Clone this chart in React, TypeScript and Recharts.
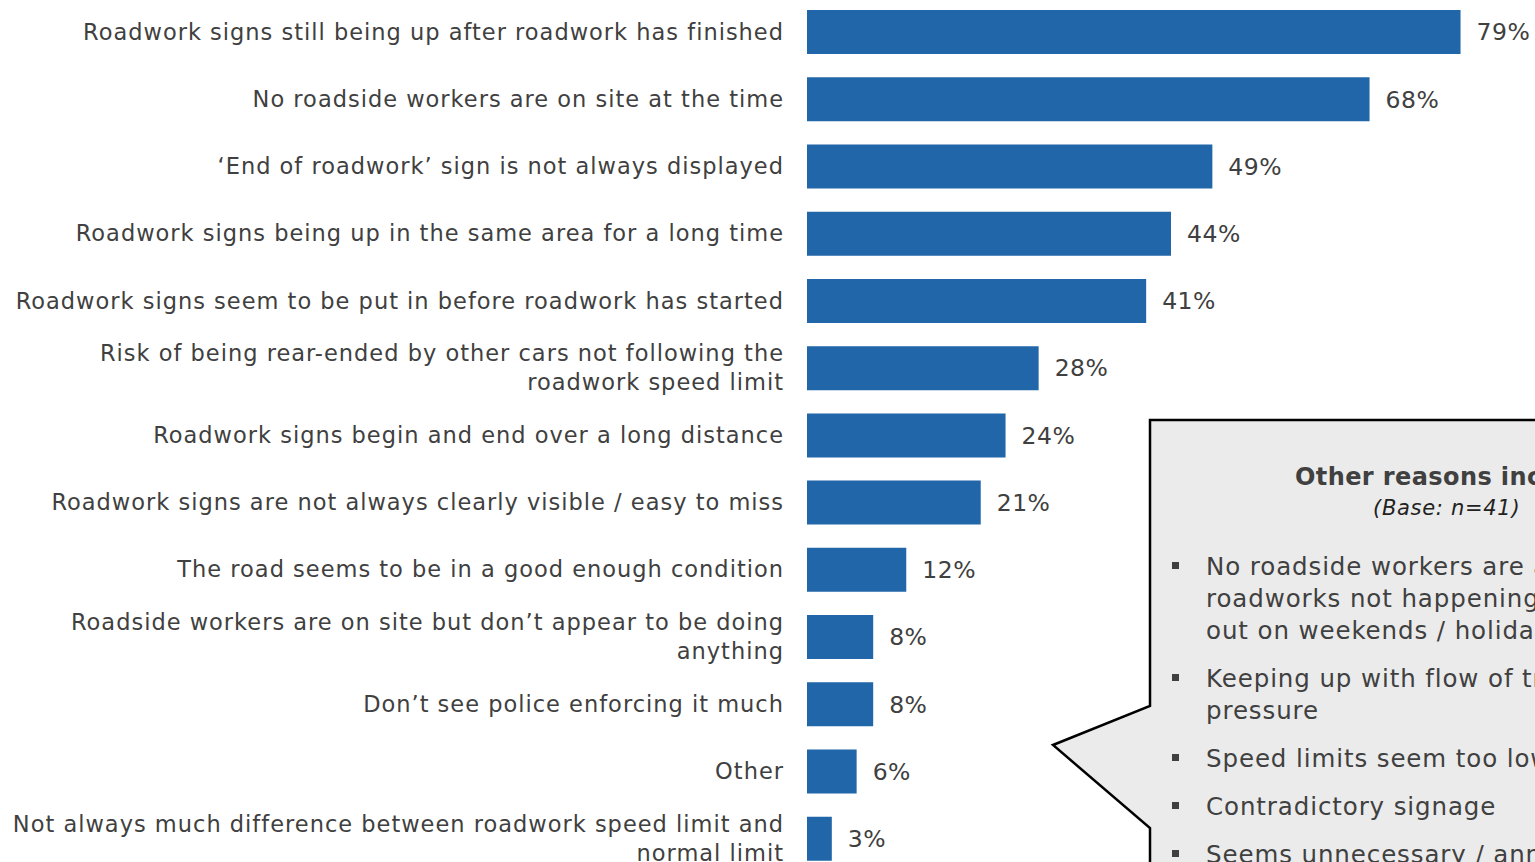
import React from "react";
import { BarChart, Bar, XAxis, YAxis, LabelList } from "recharts";

const categories = [
  "Roadwork signs still being up after roadwork has finished",
  "No roadside workers are on site at the time",
  "\u2018End of roadwork\u2019 sign is not always displayed",
  "Roadwork signs being up in the same area for a long time",
  "Roadwork signs seem to be put in before roadwork has started",
  "Risk of being rear-ended by other cars not following the roadwork speed limit",
  "Roadwork signs begin and end over a long distance",
  "Roadwork signs are not always clearly visible / easy to miss",
  "The road seems to be in a good enough condition",
  "Roadside workers are on site but don\u2019t appear to be doing anything",
  "Don\u2019t see police enforcing it much",
  "Other",
  "Not always much difference between roadwork speed limit and normal limit",
];
const values = [79, 68, 49, 44, 41, 28, 24, 21, 12, 8, 8, 6, 3];

const calloutTitle = "Other reasons included:";
const calloutBase = "(Base: n=41)";
const calloutBullets: string[][] = [
  ["No roadside workers are around /", "roadworks not happening / left", "out on weekends / holidays"],
  ["Keeping up with flow of traffic / peer", "pressure"],
  ["Speed limits seem too low"],
  ["Contradictory signage"],
  ["Seems unnecessary / annoying"],
];

const data = categories.map((name, i) => ({ name, value: values[i] }));

const FONT = "'DejaVu Sans', sans-serif";
const TEXT = "#404040";
const BLUE = "#2166a9";

function wrap(s: string, max: number): string[] {
  const words = s.split(" ");
  const lines: string[] = [];
  let cur = "";
  for (const w of words) {
    const t = cur ? cur + " " + w : w;
    if (t.length > max && cur) {
      lines.push(cur);
      cur = w;
    } else cur = t;
  }
  if (cur) lines.push(cur);
  return lines;
}

const Tick = (props: any) => {
  const { x, y, payload } = props;
  const lines = wrap(payload.value, 62);
  const lh = 29;
  const start = y - ((lines.length - 1) * lh) / 2;
  return (
    <text
      x={x - 23}
      y={start}
      textAnchor="end"
      fill={TEXT}
      fontFamily={FONT}
      fontSize={22.5}
      letterSpacing={1}
      dominantBaseline="central"
    >
      {lines.map((l, i) => (
        <tspan key={i} x={x - 23} y={start + i * lh}>
          {l}
        </tspan>
      ))}
    </text>
  );
};

export default function App() {
  return (
    <div style={{ position: "fixed", left: 0, top: 0, width: 1535, height: 862, overflow: "hidden", background: "#fff" }}>
      <div style={{ position: "absolute", left: 0, top: -2 }}>
        <BarChart
          width={1535}
          height={874}
          data={data}
          layout="vertical"
          margin={{ top: 0, right: 0, left: 0, bottom: 0 }}
        >
          <XAxis type="number" domain={[0, 88]} hide />
          <YAxis
            type="category"
            dataKey="name"
            width={807}
            axisLine={false}
            tickLine={false}
            tickSize={0}
            tickMargin={0}
            interval={0}
            tick={<Tick />}
          />
          <Bar dataKey="value" fill={BLUE} barSize={44} isAnimationActive={false}>
            <LabelList
              dataKey="value"
              position="right"
              offset={16}
              formatter={(v: any) => `${v}%`}
              fill={TEXT}
              fontFamily={FONT}
              fontSize={23.5}
              letterSpacing={0.5}
            />
          </Bar>
        </BarChart>
      </div>
      <svg
        width={1535}
        height={862}
        style={{ position: "absolute", left: 0, top: 0, pointerEvents: "none" }}
      >
        <path
          d="M1150 420 L1600 420 L1600 900 L1150 900 L1150 828 L1053 745 L1150 706 Z"
          fill="#ebebeb"
          stroke="#000"
          strokeWidth={2.5}
          strokeLinejoin="miter"
        />
        <text x={1295} y={477} textAnchor="start" dominantBaseline="central" fontFamily={FONT} fontSize={24} letterSpacing={0.4} fontWeight="bold" fill={TEXT}>
          {calloutTitle}
        </text>
        <text x={1373} y={508} textAnchor="start" dominantBaseline="central" fontFamily={FONT} fontSize={21} letterSpacing={0.7} fontStyle="italic" fill="#222">
          {calloutBase}
        </text>
        {(() => {
          const out: any[] = [];
          let y = 566;
          calloutBullets.forEach((b, bi) => {
            out.push(<rect key={"r" + bi} x={1172} y={y - 4} width={7} height={7} fill="#404040" />);
            b.forEach((l, li) => {
              out.push(
                <text key={bi + "-" + li} x={1206} y={y} dominantBaseline="central" fontFamily={FONT} fontSize={24.5} letterSpacing={0.9} fill={TEXT}>
                  {l}
                </text>
              );
              y += 32;
            });
            y += 16;
          });
          return out;
        })()}
      </svg>
    </div>
  );
}
